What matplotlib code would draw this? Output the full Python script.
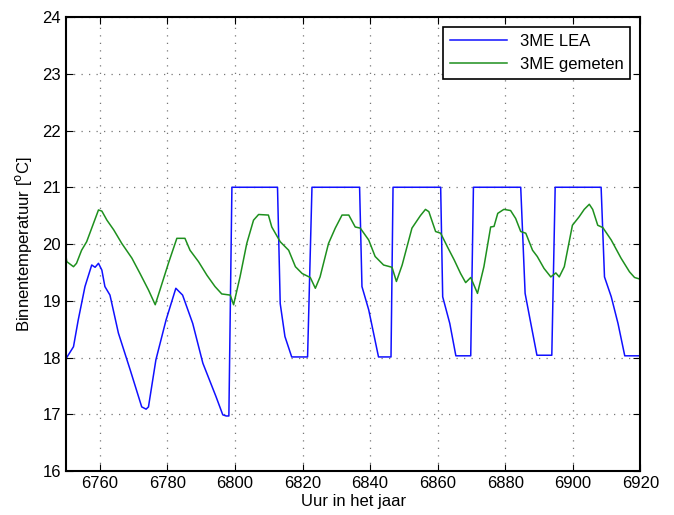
import matplotlib
matplotlib.use('Agg')
from matplotlib import pyplot as plt

plt.rcParams['font.family'] = ['Liberation Sans', 'DejaVu Sans']

# 3ME LEA (berekend)
lea_uur = [6750.2, 6752.2, 6753.6, 6755.6, 6757.6, 6758.6, 6759.6, 6760.6, 6761.5, 6763.0,
           6765.5, 6769.0, 6772.4, 6773.7, 6774.4, 6776.6, 6779.6, 6782.5, 6784.5, 6787.5,
           6790.5, 6794.4, 6796.4, 6797.4, 6798.2, 6799.1,
           6812.6, 6813.4, 6814.8, 6816.8, 6821.5, 6822.8,
           6836.9, 6837.6, 6839.6, 6842.5, 6846.2, 6846.8,
           6860.9, 6861.5, 6863.6, 6865.4, 6869.8, 6870.6,
           6884.6, 6885.9, 6887.4, 6889.4, 6893.8, 6894.8,
           6908.4, 6909.4, 6911.4, 6913.4, 6915.4, 6920.0]
lea_temp = [18.00, 18.19, 18.66, 19.25, 19.63, 19.59, 19.66, 19.54, 19.25, 19.10,
            18.43, 17.78, 17.13, 17.09, 17.13, 17.96, 18.66, 19.22, 19.10, 18.60,
            17.90, 17.31, 16.99, 16.97, 16.97, 21.00,
            21.00, 18.95, 18.37, 18.01, 18.01, 21.00,
            21.00, 19.25, 18.84, 18.01, 18.01, 21.00,
            21.00, 19.07, 18.60, 18.03, 18.03, 21.00,
            21.00, 19.13, 18.66, 18.04, 18.04, 21.00,
            21.00, 19.42, 19.07, 18.60, 18.03, 18.03]

# 3ME gemeten
gem_uur = [6750.0, 6750.2, 6752.2, 6753.1, 6754.6, 6756.1, 6758.1, 6759.6, 6760.6, 6762.1,
           6764.1, 6766.5, 6769.5, 6771.9, 6774.4, 6776.4, 6777.8, 6780.3, 6782.8, 6785.2,
           6786.7, 6789.2, 6791.7, 6794.1, 6796.1, 6798.6, 6799.6, 6801.5, 6803.5, 6805.5,
           6807.0, 6809.9, 6810.9, 6813.4, 6815.9, 6817.9, 6819.9, 6822.3, 6823.8, 6825.2,
           6827.7, 6829.7, 6831.7, 6833.7, 6835.6, 6837.1, 6839.6, 6841.5, 6844.0, 6846.5,
           6847.8, 6849.5, 6852.4, 6854.9, 6856.4, 6857.4, 6859.4, 6860.9, 6862.9, 6864.9,
           6866.8, 6868.3, 6869.8, 6871.8, 6873.7, 6875.7, 6876.7, 6877.8, 6879.6, 6881.6,
           6883.1, 6884.6, 6886.1, 6888.1, 6889.5, 6891.5, 6893.5, 6895.0, 6896.0, 6897.5,
           6899.9, 6901.9, 6903.4, 6904.9, 6905.9, 6907.4, 6908.9, 6911.4, 6914.3, 6916.8,
           6918.3, 6920.0]
gem_temp = [19.78, 19.69, 19.60, 19.66, 19.89, 20.04, 20.36, 20.60, 20.58, 20.42,
            20.25, 20.01, 19.75, 19.48, 19.19, 18.93, 19.19, 19.66, 20.10, 20.10,
            19.89, 19.69, 19.45, 19.25, 19.12, 19.10, 18.93, 19.42, 20.01, 20.42,
            20.52, 20.51, 20.30, 20.04, 19.89, 19.60, 19.48, 19.41, 19.22, 19.42,
            20.01, 20.28, 20.51, 20.51, 20.30, 20.28, 20.07, 19.78, 19.63, 19.59,
            19.34, 19.63, 20.28, 20.50, 20.61, 20.57, 20.22, 20.19, 19.95, 19.72,
            19.48, 19.32, 19.41, 19.13, 19.60, 20.30, 20.31, 20.54, 20.61, 20.59,
            20.45, 20.22, 20.19, 19.89, 19.78, 19.57, 19.42, 19.49, 19.42, 19.60,
            20.33, 20.48, 20.61, 20.70, 20.61, 20.33, 20.29, 20.07, 19.75, 19.51,
            19.41, 19.38]

x_ticks = list(range(6760, 6921, 20))
y_ticks = list(range(16, 25))

fig = plt.figure(figsize=(6.74, 5.15), dpi=100)
ax = fig.add_axes([0.098, 0.0854, 0.852, 0.8816])

ax.plot(lea_uur, lea_temp, color='#1010ff', linewidth=1.1, label='3ME LEA')
ax.plot(gem_uur, gem_temp, color='#1e901e', linewidth=1.1, label='3ME gemeten')

ax.set_xlim(6750, 6920)
ax.set_ylim(16, 24)
ax.set_xticks(x_ticks)
ax.set_yticks(y_ticks)
ax.grid(True, linestyle=(0, (1, 5)), color='#777777', linewidth=0.9)
ax.tick_params(axis='both', direction='in', top=True, right=True, labelsize=12, length=5)
for s in ax.spines.values():
    s.set_linewidth(1.5)

ax.set_xlabel('Uur in het jaar', fontsize=12, labelpad=2)
ax.set_ylabel('Binnentemperatuur [$^{\\mathrm{o}}$C]', fontsize=12, labelpad=6)

leg = ax.legend(loc='upper right', fontsize=12, fancybox=False, framealpha=1,
                edgecolor='black', borderaxespad=0.6, handlelength=3.4)
leg.get_frame().set_linewidth(1.2)

fig.savefig('out.png', dpi=100)
